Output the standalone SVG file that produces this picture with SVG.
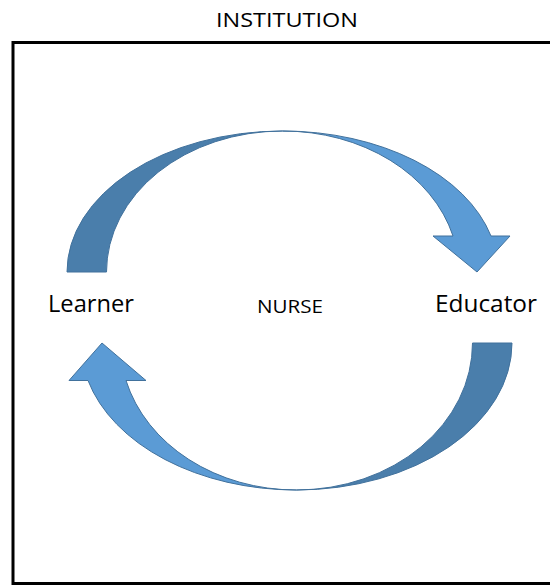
<svg xmlns="http://www.w3.org/2000/svg" width="550" height="585" viewBox="0 0 550 585">
<style>
.t{font-family:"Open Sans","Liberation Sans",sans-serif;fill:#000}
.dark{fill:#4A7EAB;stroke:#41719C;stroke-width:1}
.light{fill:#5B9BD5;stroke:#41719C;stroke-width:1}
</style>
<rect width="550" height="585" fill="#fff"/>
<g id="institution">
<rect x="13" y="42.5" width="600" height="541" fill="none" stroke="#000" stroke-width="3"/>
<text class="t" x="287" y="27" font-size="20" text-anchor="middle" textLength="142" lengthAdjust="spacingAndGlyphs">INSTITUTION</text>
</g>
<g id="connectors">
<g id="arrow-top">
<path class="dark" d="M67,272 A215.5,141 0 0 1 282.5,131 A176,141 0 0 0 106.5,272 Z"/>
<path class="light" d="M282.5,131 A215.5,141 0 0 1 491,236 L510,236 L477,272 L433,236 L453,236 A176,141 0 0 0 282.5,131 Z"/>
</g>
<g id="arrow-bottom">
<path class="dark" d="M512,343 A215.5,147 0 0 1 296.5,490 A176,147 0 0 0 472.5,343 Z"/>
<path class="light" d="M296.5,490 A215.5,147 0 0 1 88,380.5 L69,380.5 L102,343 L146,380.5 L126,380.5 A176,147 0 0 0 296.5,490 Z"/>
</g>
</g>
<g id="learner"><text class="t" x="48" y="312" font-size="23" textLength="86" lengthAdjust="spacingAndGlyphs">Learner</text></g>
<g id="nurse"><text class="t" x="257" y="313" font-size="19" textLength="66" lengthAdjust="spacingAndGlyphs">NURSE</text></g>
<g id="educator"><text class="t" x="435" y="312" font-size="23" textLength="102" lengthAdjust="spacingAndGlyphs">Educator</text></g>
</svg>
